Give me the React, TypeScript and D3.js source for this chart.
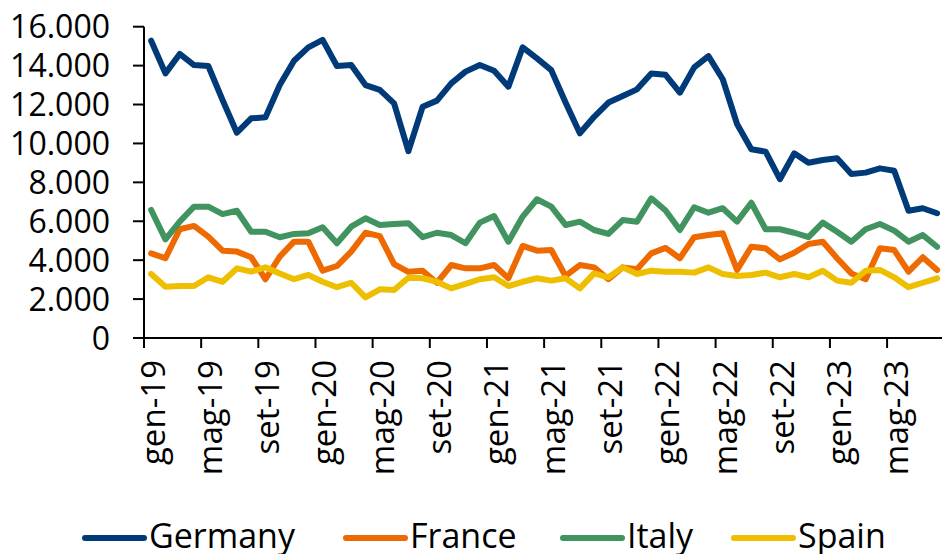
import React from "react";
import * as d3 from "d3";

const categories: string[] = [
  "gen-19","feb-19","mar-19","apr-19","mag-19","giu-19","lug-19","ago-19","set-19","ott-19","nov-19","dic-19",
  "gen-20","feb-20","mar-20","apr-20","mag-20","giu-20","lug-20","ago-20","set-20","ott-20","nov-20","dic-20",
  "gen-21","feb-21","mar-21","apr-21","mag-21","giu-21","lug-21","ago-21","set-21","ott-21","nov-21","dic-21",
  "gen-22","feb-22","mar-22","apr-22","mag-22","giu-22","lug-22","ago-22","set-22","ott-22","nov-22","dic-22",
  "gen-23","feb-23","mar-23","apr-23","mag-23","giu-23","lug-23","ago-23",
];

const germany: number[] = [
  15280, 13600, 14600, 14030, 13980, 12230, 10550, 11290, 11340, 13000, 14250, 14940,
  15320, 13980, 14030, 13000, 12750, 12060, 9600, 11890, 12200, 13090, 13690, 14030,
  13740, 12920, 14940, 14370, 13770, 12100, 10520, 11370, 12100, 12440, 12780, 13600,
  13530, 12610, 13910, 14490, 13300, 11000, 9700, 9580, 8160, 9490, 9010, 9150,
  9240, 8430, 8500, 8720, 8600, 6540, 6670, 6410,
];

const france: number[] = [
  4350, 4100, 5590, 5760, 5210, 4490, 4440, 4150, 3020, 4180, 4950, 4950,
  3460, 3700, 4440, 5410, 5240, 3800, 3400, 3460, 2840, 3750, 3580, 3580,
  3750, 3070, 4730, 4490, 4520, 3190, 3750, 3630, 3020, 3630, 3530, 4350,
  4630, 4100, 5180, 5290, 5380, 3500, 4690, 4610, 4040, 4380, 4830, 4950,
  4100, 3320, 3020, 4610, 4520, 3410, 4150, 3500,
];

const italy: number[] = [
  6580, 5070, 5980, 6750, 6750, 6370, 6540, 5460, 5460, 5180, 5350, 5380,
  5690, 4870, 5720, 6150, 5810, 5860, 5900, 5180, 5410, 5290, 4870, 5930,
  6270, 4950, 6240, 7130, 6750, 5810, 5980, 5550, 5350, 6060, 5980, 7180,
  6550, 5550, 6720, 6440, 6670, 5980, 6950, 5590, 5590, 5410, 5180, 5930,
  5460, 4950, 5590, 5860, 5520, 4950, 5290, 4690,
];

const spain: number[] = [
  3290, 2640, 2670, 2670, 3120, 2890, 3580, 3410, 3630, 3320, 3020, 3240,
  2890, 2610, 2840, 2090, 2500, 2470, 3100, 3070, 2890, 2550, 2780, 3020,
  3120, 2670, 2890, 3070, 2950, 3070, 2550, 3320, 3120, 3630, 3290, 3460,
  3410, 3410, 3360, 3630, 3290, 3190, 3240, 3360, 3120, 3290, 3120, 3460,
  2950, 2840, 3460, 3500, 3120, 2610, 2840, 3070,
];

const seriesNames: string[] = ["Germany", "France", "Italy", "Spain"];
const seriesColors: string[] = ["#003A78", "#EE6A00", "#41935F", "#EEBF00"];
const yTicks: number[] = [0, 2000, 4000, 6000, 8000, 10000, 12000, 14000, 16000];

const W = 942;
const H = 554;
const FONT = "'Open Sans', sans-serif";

const locale = d3.formatLocale({ decimal: ",", thousands: ".", grouping: [3], currency: ["€", ""] });
const fmt = locale.format(",.0f");

export default function App() {
  const left = 144;
  const step = 14.29;
  const x = d3
    .scaleBand<string>()
    .domain(categories)
    .range([left, left + step * categories.length])
    .paddingInner(0)
    .paddingOuter(0);
  const y = d3.scaleLinear().domain([0, 16000]).range([338, 26.7]);
  const bw = x.bandwidth();

  const allSeries = [germany, france, italy, spain];
  const line = d3
    .line<number>()
    .x((_, i) => (x(categories[i]) as number) + bw / 2)
    .y((d) => y(d));

  const legendStarts = [82, 343, 560, 731];
  const legendY = 538;

  return (
    <svg
      width={W}
      height={H}
      style={{ position: "absolute", left: 0, top: 0, background: "#fff" }}
      fontFamily={FONT}
    >
      <rect x={0} y={0} width={W} height={H} fill="#fff" />
      {/* cut-off title fragments */}
      <text x={386} y={-6} fontSize={34} fontWeight="bold" fill="#003A78">(</text>
      <text x={578} y={-6} fontSize={34} fontWeight="bold" fill="#003A78">)</text>

      {/* y axis */}
      <line x1={left} x2={left} y1={y(16000)} y2={y(0)} stroke="#000" strokeWidth={2} />
      {yTicks.map((t) => (
        <g key={t}>
          <line x1={left - 11} x2={left} y1={y(t)} y2={y(t)} stroke="#000" strokeWidth={2} />
          <text x={110} y={y(t)} dy="0.36em" textAnchor="end" fontSize={32} fill="#000">
            {fmt(t)}
          </text>
        </g>
      ))}

      {/* x axis */}
      <line x1={left} x2={W} y1={y(0)} y2={y(0)} stroke="#000" strokeWidth={2} />
      {categories.map((c, i) =>
        i % 4 === 0 ? (
          <g key={c}>
            <line
              x1={x(c) as number}
              x2={x(c) as number}
              y1={y(0)}
              y2={y(0) + 10}
              stroke="#000"
              strokeWidth={2}
            />
            <text
              transform={`translate(${(x(c) as number) + 21},360) rotate(-90)`}
              textAnchor="end"
              fontSize={33}
              fill="#000"
            >
              {c}
            </text>
          </g>
        ) : null
      )}

      {/* series */}
      {allSeries.map((s, k) => (
        <path
          key={seriesNames[k]}
          d={line(s) || ""}
          fill="none"
          stroke={seriesColors[k]}
          strokeWidth={6}
          strokeLinejoin="round"
          strokeLinecap="round"
        />
      ))}

      {/* legend */}
      {seriesNames.map((n, k) => (
        <g key={n}>
          <line
            x1={legendStarts[k] + 3}
            x2={legendStarts[k] + 62}
            y1={legendY}
            y2={legendY}
            stroke={seriesColors[k]}
            strokeWidth={6}
            strokeLinecap="round"
          />
          <text x={legendStarts[k] + 67} y={548} fontSize={34} fill="#000">
            {n}
          </text>
        </g>
      ))}
    </svg>
  );
}
